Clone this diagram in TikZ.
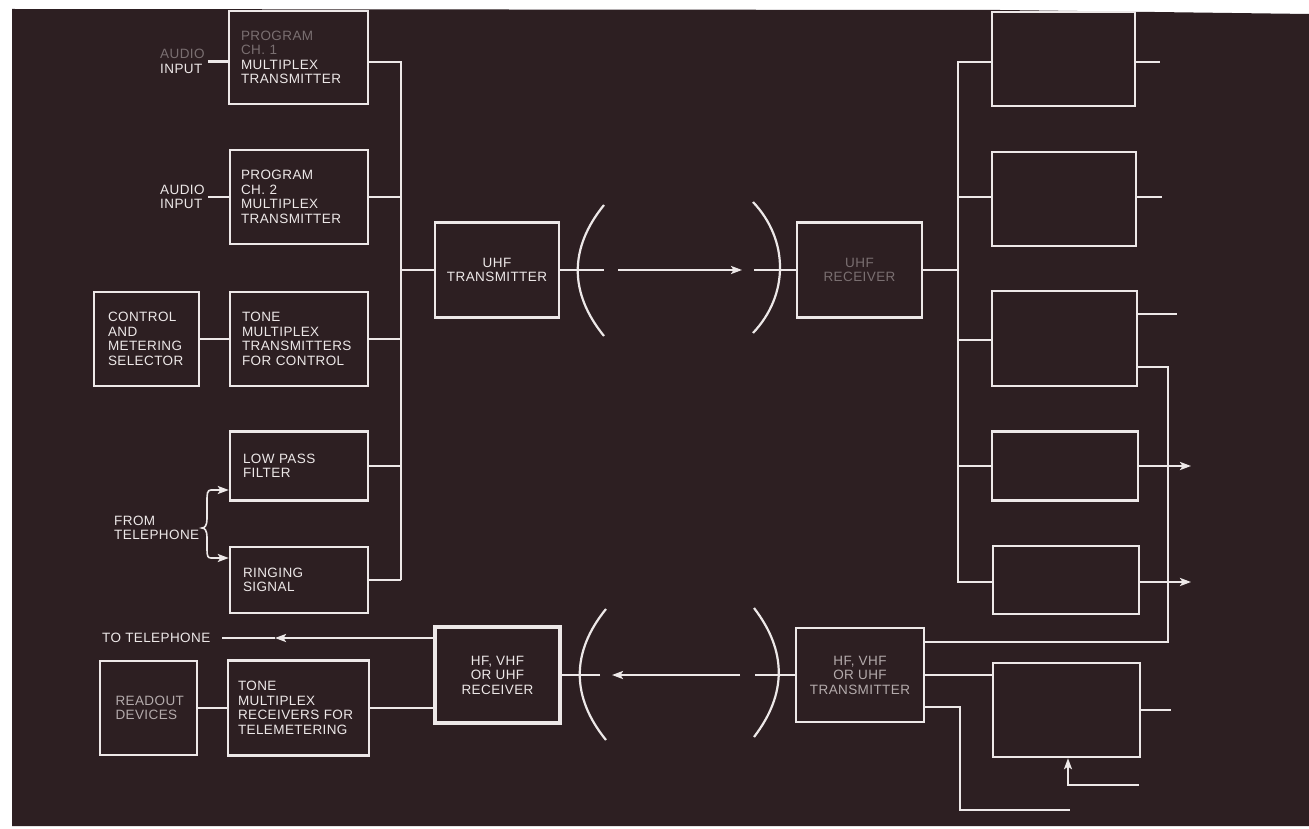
\documentclass[tikz,border=0pt]{standalone}
\usepackage{fontspec}
\newfontfamily\lbl{Liberation Sans}[LetterSpace=3.0]
\usetikzlibrary{arrows.meta}
\definecolor{bg}{HTML}{2D1F22}
\definecolor{fg}{HTML}{EDE8E8}
\definecolor{faint}{HTML}{7A6F71}
\definecolor{dim}{HTML}{B4ABAC}
\begin{document}
\begin{tikzpicture}[x=1pt,y=-1pt,
  box/.style={draw=fg, rectangle, line width=2.4pt, inner ysep=0pt, text=fg,
    font=\lbl\fontsize{13.5}{14.5}\selectfont},
  boxl/.style={box, align=left},
  boxc/.style={box, align=center, inner xsep=2pt},
  lab/.style={text=fg, align=left, inner sep=0pt, font=\lbl\fontsize{13.5}{14.5}\selectfont},
  wire/.style={draw=fg, line width=2.2pt},
  withtip/.style={-{Stealth[length=11pt,width=8pt,inset=2.5pt]}}
]
\useasboundingbox (0,0) rectangle (1309,829);
\fill[white] (0,0) rectangle (1309,829);
\fill[bg] (12,9) -- (1000,10) -- (1309,14) -- (1309,826) -- (12,826) -- cycle;

% ---------- left column ----------
\node[boxl, text width=115pt, inner xsep=12pt, minimum height=93pt] (P1) at (298.5,57.5)
  {{\color{faint}PROGRAM}\\{\color{faint}CH. 1}\\MULTIPLEX\\TRANSMITTER};
\node[boxl, text width=116pt, inner xsep=11pt, minimum height=94pt] (P2) at (299,197)
  {PROGRAM\\CH. 2\\MULTIPLEX\\TRANSMITTER};
\node[boxl, text width=77pt, inner xsep=14pt, minimum height=94pt] (CTRL) at (146.5,339)
  {CONTROL\\AND\\METERING\\SELECTOR};
\node[boxl, text width=114pt, inner xsep=12pt, minimum height=94pt] (TONE) at (299,339)
  {TONE\\MULTIPLEX\\TRANSMITTERS\\FOR CONTROL};
\node[boxl, text width=112pt, inner xsep=13pt, minimum height=69pt] (LPF) at (299,466)
  {LOW PASS\\FILTER};
\node[boxl, text width=112pt, inner xsep=13pt, minimum height=66pt] (RING) at (299,580)
  {RINGING\\SIGNAL};
\node[boxl, text width=121pt, inner xsep=10pt, minimum height=95pt] (TONER) at (298.5,708)
  {TONE\\MULTIPLEX\\RECEIVERS FOR\\TELEMETERING};
\node[boxl, text width=66pt, inner xsep=15.5pt, minimum height=94pt, text=dim] (READ) at (148.5,708)
  {READOUT\\DEVICES};

% ---------- middle ----------
\node[boxc, minimum width=124pt, minimum height=95pt] (UHFT) at (497,270) {UHF\\TRANSMITTER};
\node[boxc, minimum width=125pt, minimum height=95pt, text=faint] (UHFR) at (859.5,270) {UHF\\RECEIVER};
\node[boxc, minimum width=125pt, minimum height=96pt, line width=3.2pt] (HFR) at (497.5,675)
  {HF, VHF\\OR UHF\\RECEIVER};
\node[boxc, minimum width=128pt, minimum height=94pt, text=dim] (HFT) at (860,675)
  {HF, VHF\\OR UHF\\TRANSMITTER};

% ---------- right column ----------
\node[box, minimum width=143pt, minimum height=94pt] (R1) at (1063.5,59) {};
\node[box, minimum width=144pt, minimum height=94pt] (R2) at (1064,199) {};
\node[box, minimum width=145pt, minimum height=95pt] (R3) at (1064.5,338.5) {};
\node[box, minimum width=146pt, minimum height=69pt] (R4) at (1065,466) {};
\node[box, minimum width=146pt, minimum height=68pt] (R5) at (1066,580) {};
\node[box, minimum width=147pt, minimum height=94pt] (R6) at (1066.5,710) {};

% ---------- labels ----------
\node[lab, anchor=west] (AI1) at (160,61.5) {{\color{faint}AUDIO}\\INPUT};
\node[lab, anchor=west] (AI2) at (160,197) {AUDIO\\INPUT};
\node[lab, anchor=west] (FT) at (114,528) {FROM\\TELEPHONE};
\node[lab, anchor=west] (TT) at (102,638) {TO TELEPHONE};

% ---------- coordinates ----------
\coordinate (lbTop) at (401,62);
\coordinate (lbBot) at (401,580);
\coordinate (rbTop) at (958,62);
\coordinate (rbBot) at (958,582);
\coordinate (a1) at (604,270);
\coordinate (a2) at (618,270);
\coordinate (a3) at (742,270);
\coordinate (a4) at (754,270);
\coordinate (b1) at (755,675);
\coordinate (b2) at (740,675);
\coordinate (b3) at (612,675);
\coordinate (b4) at (600,675);
\coordinate (o1) at (1160,62);
\coordinate (o2) at (1162,197);
\coordinate (o3) at (1177,314);
\coordinate (o4) at (1191,466);
\coordinate (o5) at (1191,582);
\coordinate (o6) at (1171,710);
\coordinate (r3b) at (1168,367);
\coordinate (r3c) at (1168,642);
\coordinate (h3) at (960,707);
\coordinate (h3b) at (960,810);
\coordinate (h3c) at (1070,810);
\coordinate (r6in) at (1139,785);
\coordinate (r6k) at (1068,785);
\coordinate (bt1) at (211,490);
\coordinate (bt2) at (211,558);
\coordinate (tt) at (222,638);
\coordinate (ttm) at (275,638);

% ---------- left wiring ----------
\draw[wire] ([xshift=3pt]AI1.east) -- (AI1.east -| P1.west);
\draw[wire] ([xshift=3pt]AI2.east) -- (AI2.east -| P2.west);
\draw[wire] (P1.east |- lbTop) -- (lbTop) -- (lbBot);
\draw[wire] (P2.east) -- (P2.east -| lbTop);
\draw[wire] (TONE.east) -- (TONE.east -| lbTop);
\draw[wire] (LPF.east) -- (LPF.east -| lbTop);
\draw[wire] (RING.east) -- (lbBot);
\draw[wire] (CTRL.east) -- (TONE.west);
\draw[wire] (lbTop |- UHFT.west) -- (UHFT.west);

% brace and telephone inputs
\draw[draw=fg, line width=1.6pt] (bt1) .. controls (207,490) and (207,494) .. (207,502) -- (207,519)
  .. controls (207,525) and (205,528) .. (202,528) .. controls (205,528) and (207,531) .. (207,537)
  -- (207,550) .. controls (207,556) and (208,558) .. (bt2);
\draw[wire, withtip] (bt1) -- (bt1 -| LPF.west);
\draw[wire, withtip] (bt2) -- (bt2 -| RING.west);

% ---------- upper UHF link ----------
\draw[wire] (UHFT.east |- a1) -- (a1);
\draw[draw=fg, line width=2.2pt] (604,205) .. controls (569,248) and (569,293) .. (604,336);
\draw[wire, withtip] (a2) -- (a3);
\draw[draw=fg, line width=2.2pt] (753,202) .. controls (789,240) and (789,295) .. (753,333);
\draw[wire] (a4) -- (a4 -| UHFR.west);

% ---------- right wiring ----------
\draw[wire] (UHFR.east) -- (UHFR.east -| rbTop);
\draw[wire] (rbTop -| R1.west) -- (rbTop) -- (rbBot) -- (rbBot -| R5.west);
\draw[wire] (rbTop |- o2) -- (o2 -| R2.west);
\draw[wire] (rbTop |- 0,340) -- (R3.west |- 0,340);
\draw[wire] (R4.west -| rbTop) -- (R4.west);
\draw[wire] (o1 -| R1.east) -- (o1);
\draw[wire] (o2 -| R2.east) -- (o2);
\draw[wire] (o3 -| R3.east) -- (o3);
\draw[wire, withtip] (o4 -| R4.east) -- (o4);
\draw[wire, withtip] (o5 -| R5.east) -- (o5);
\draw[wire] (o6 -| R6.east) -- (o6);
\draw[wire] (r3b -| R3.east) -- (r3b) -- (r3c) -- (r3c -| HFT.east);

% ---------- lower link ----------
\draw[wire] (HFT.east) -- (HFT.east -| R6.west);
\draw[wire] (h3 -| HFT.east) -- (h3) -- (h3b) -- (h3c);
\draw[wire, withtip] (r6in) -- (r6k) -- (r6k |- R6.south);
\draw[wire] (HFT.west) -- (b1);
\draw[draw=fg, line width=2.2pt] (754,608) .. controls (787,651) and (787,694) .. (754,737);
\draw[wire, withtip] (b2) -- (b3);
\draw[draw=fg, line width=2.2pt] (606,609) .. controls (571,652) and (571,697) .. (606,740);
\draw[wire] (b4) -- (b4 -| HFR.east);

% ---------- bottom left ----------
\draw[wire, withtip] (HFR.west |- tt) -- (ttm);
\draw[wire] (ttm) -- (tt);
\draw[wire] (TONER.east) -- (TONER.east -| HFR.west);
\draw[wire] (READ.east) -- (TONER.west);
\end{tikzpicture}
\end{document}
